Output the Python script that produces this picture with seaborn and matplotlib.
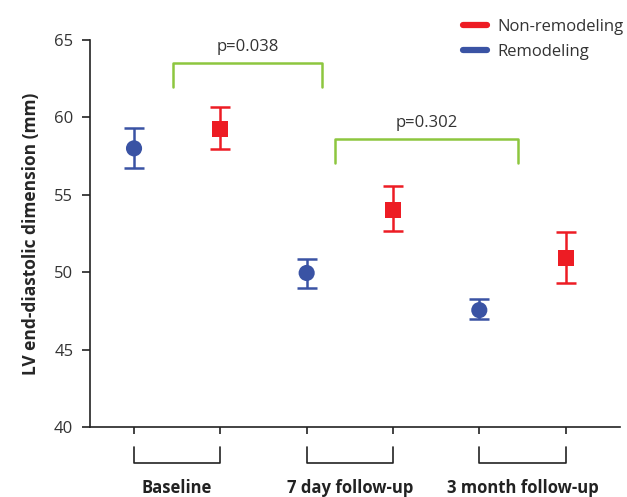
import matplotlib
matplotlib.use("Agg")
import matplotlib.pyplot as plt
import seaborn as sns
import pandas as pd
import numpy as np
from matplotlib.lines import Line2D

timepoints = ["Baseline", "7 day follow-up", "3 month follow-up"]
groups = ["Remodeling", "Non-remodeling"]
remodeling_mean = [58.0, 49.95, 47.55]
remodeling_lo = [56.7, 48.95, 46.95]
remodeling_hi = [59.3, 50.85, 48.25]
nonremodeling_mean = [59.25, 54.0, 50.9]
nonremodeling_lo = [57.95, 52.65, 49.3]
nonremodeling_hi = [60.65, 55.55, 52.6]
p_labels = ["p=0.038", "p=0.302"]
y_ticks = [40, 45, 50, 55, 60, 65]

sns.set_style("white")
plt.rcParams['font.family'] = ['Open Sans', 'DejaVu Sans']

colors = {"Remodeling": "#3a53a4", "Non-remodeling": "#ed1c24"}
markers = {"Remodeling": "o", "Non-remodeling": "s"}

rows = []
for gi, g in enumerate(groups):
    means = remodeling_mean if g == "Remodeling" else nonremodeling_mean
    los = remodeling_lo if g == "Remodeling" else nonremodeling_lo
    his = remodeling_hi if g == "Remodeling" else nonremodeling_hi
    for ti, t in enumerate(timepoints):
        rows.append(dict(time=t, group=g, x=ti * 2 + gi, mean=means[ti], lo=los[ti], hi=his[ti]))
df = pd.DataFrame(rows)

fig = plt.figure(figsize=(6.27, 4.97), dpi=100)
ax = fig.add_axes([90 / 627, 70 / 497, 530 / 627, 387 / 497])

for g in groups:
    d = df[df.group == g]
    ax.errorbar(d.x, d["mean"], yerr=[d["mean"] - d.lo, d.hi - d["mean"]], fmt="none",
                ecolor=colors[g], elinewidth=1.8, capsize=7, capthick=1.8, zorder=2)

sns.scatterplot(data=df, x="x", y="mean", hue="group", style="group",
                palette=colors, markers=markers, s=135, edgecolor="none",
                legend=False, ax=ax, zorder=3)

ax.set_xlim(-0.51, 5.63)
ax.set_ylim(40, 65)
ax.set_yticks(y_ticks)
ax.set_xticks(df.x.sort_values().tolist())
ax.set_xticklabels([])
ax.set_xlabel("")
ax.set_ylabel("LV end-diastolic dimension (mm)", fontsize=12.5, fontweight="bold", labelpad=10)
for s in ["top", "right"]:
    ax.spines[s].set_visible(False)
for s in ["left", "bottom"]:
    ax.spines[s].set_color("#222222")
    ax.spines[s].set_linewidth(1.2)
ax.tick_params(axis="y", direction="out", length=6, width=1.2, color="#222222",
               labelsize=12, labelcolor="#333333", pad=6, left=True)
ax.tick_params(axis="x", direction="out", length=5, width=1.2, color="#222222", bottom=True)

# group brackets under the axis
trans = ax.get_xaxis_transform()
for ti, t in enumerate(timepoints):
    x0, x1 = ti * 2, ti * 2 + 1
    ax.plot([x0, x0, x1, x1], [-0.052, -0.094, -0.094, -0.052], color="#222222", lw=1.2,
            transform=trans, clip_on=False)
    ax.text((x0 + x1) / 2, -0.158, t, transform=trans, ha="center", va="center",
            fontsize=12, fontweight="bold", color="#222222")

# significance brackets
green = "#8dc63f"
sig = [(0.45, 2.18, 63.5, 61.95), (2.33, 4.45, 58.6, 57.05)]
for (xa, xb, ytop, ybot), lab in zip(sig, p_labels):
    ax.plot([xa, xa, xb, xb], [ybot, ytop, ytop, ybot], color=green, lw=1.8, zorder=1)
    ax.text((xa + xb) / 2, ytop + 0.5, lab, ha="center", va="bottom", fontsize=12, color="#333333")

handles = [Line2D([0], [0], color=colors["Non-remodeling"], lw=4.5),
           Line2D([0], [0], color=colors["Remodeling"], lw=4.5)]
fig.legend(handles, ["Non-remodeling", "Remodeling"], loc="upper left",
           bbox_to_anchor=(448 / 627, 1 - 4 / 497), frameon=False, fontsize=12,
           handlelength=1.45, handletextpad=0.6, labelspacing=0.55, labelcolor="#333333")

fig.savefig("out.png", dpi=100)
